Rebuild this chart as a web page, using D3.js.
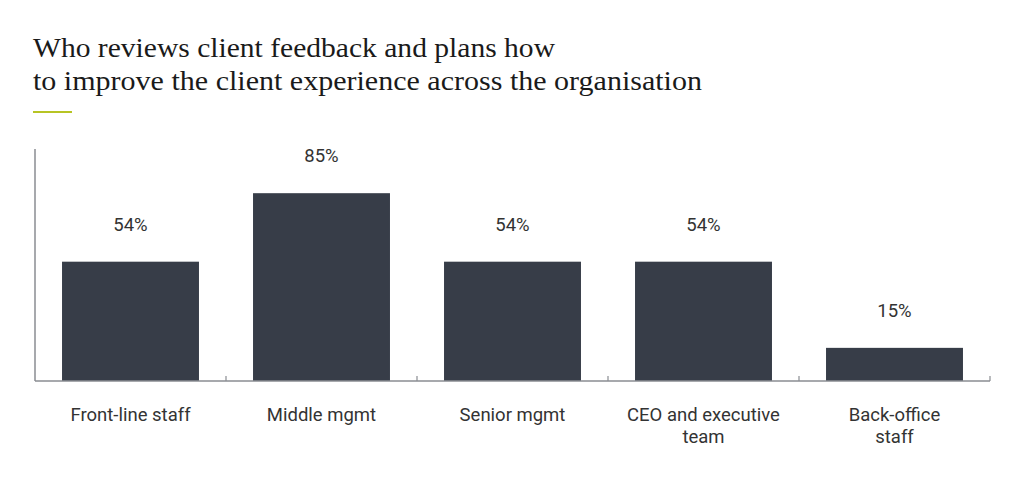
<!DOCTYPE html>
<html><head><meta charset="utf-8">
<script src="https://cdn.jsdelivr.net/npm/d3@7"></script>
<style>body{margin:0;background:#fff;} svg{display:block;}</style>
</head><body>
<svg id="c" width="1024" height="480"></svg>
<script>
const titleLines = ["Who reviews client feedback and plans how", "to improve the client experience across the organisation"];
const categories = ["Front-line staff", "Middle mgmt", "Senior mgmt", "CEO and executive team", "Back-office staff"];
const categoryLines = [["Front-line staff"], ["Middle mgmt"], ["Senior mgmt"], ["CEO and executive", "team"], ["Back-office", "staff"]];
const values = [54, 85, 54, 54, 15];

(function() {
const svg = d3.select("#c");
const mLeft = 35, mRight = 990, mTop = 149, mBottom = 381;
const titleWidths = [522, 669];

svg.append("g").selectAll("text").data(titleLines).join("text")
  .attr("x", 33).attr("y", (d, i) => 57 + i * 33)
  .attr("font-family", "Liberation Serif, serif").attr("font-size", 27).attr("fill", "#1a1a1a")
  .attr("textLength", (d, i) => titleWidths[i]).attr("lengthAdjust", "spacingAndGlyphs")
  .text(d => d);

svg.append("line").attr("x1", 33).attr("x2", 72).attr("y1", 112).attr("y2", 112)
  .attr("stroke", "#b7c424").attr("stroke-width", 2);

const x = d3.scaleBand().domain(categories).range([mLeft, mRight]).paddingInner(0.283).paddingOuter(0.1415);
const y = d3.scaleLinear().domain([0, 105]).range([mBottom, mTop]);

svg.append("g").selectAll("rect").data(values).join("rect")
  .attr("x", (d, i) => x(categories[i])).attr("width", x.bandwidth())
  .attr("y", d => y(d)).attr("height", d => y(0) - y(d))
  .attr("fill", "#373d48");

svg.append("g").selectAll("text").data(values).join("text")
  .attr("x", (d, i) => x(categories[i]) + x.bandwidth() / 2)
  .attr("y", d => y(d) - 31)
  .attr("text-anchor", "middle").attr("font-family", "Roboto, sans-serif").attr("font-size", 18.5).attr("fill", "#333")
  .text(d => d + "%");

const axisColor = "#8a8d92";
svg.append("line").attr("x1", mLeft).attr("x2", mLeft).attr("y1", mTop).attr("y2", mBottom).attr("stroke", axisColor).attr("stroke-width", 1.5);
svg.append("line").attr("x1", mLeft).attr("x2", mRight).attr("y1", mBottom).attr("y2", mBottom).attr("stroke", axisColor).attr("stroke-width", 1.5);
const step = x.step();
svg.append("g").selectAll("line").data(categories).join("line")
  .attr("x1", d => x(d) - x.paddingOuter() * step + step).attr("x2", d => x(d) - x.paddingOuter() * step + step)
  .attr("y1", mBottom).attr("y2", mBottom - 5).attr("stroke", axisColor).attr("stroke-width", 1.2);

const lab = svg.append("g").selectAll("text").data(categories).join("text")
  .attr("x", d => x(d) + x.bandwidth() / 2).attr("y", 421)
  .attr("text-anchor", "middle").attr("font-family", "Roboto, sans-serif").attr("font-size", 18.5).attr("fill", "#333");
lab.each(function(d, i) {
  d3.select(this).selectAll("tspan").data(categoryLines[i]).join("tspan")
    .attr("x", x(d) + x.bandwidth() / 2).attr("dy", (t, j) => j === 0 ? 0 : 22).text(t => t);
});
})();
</script>
</body></html>
